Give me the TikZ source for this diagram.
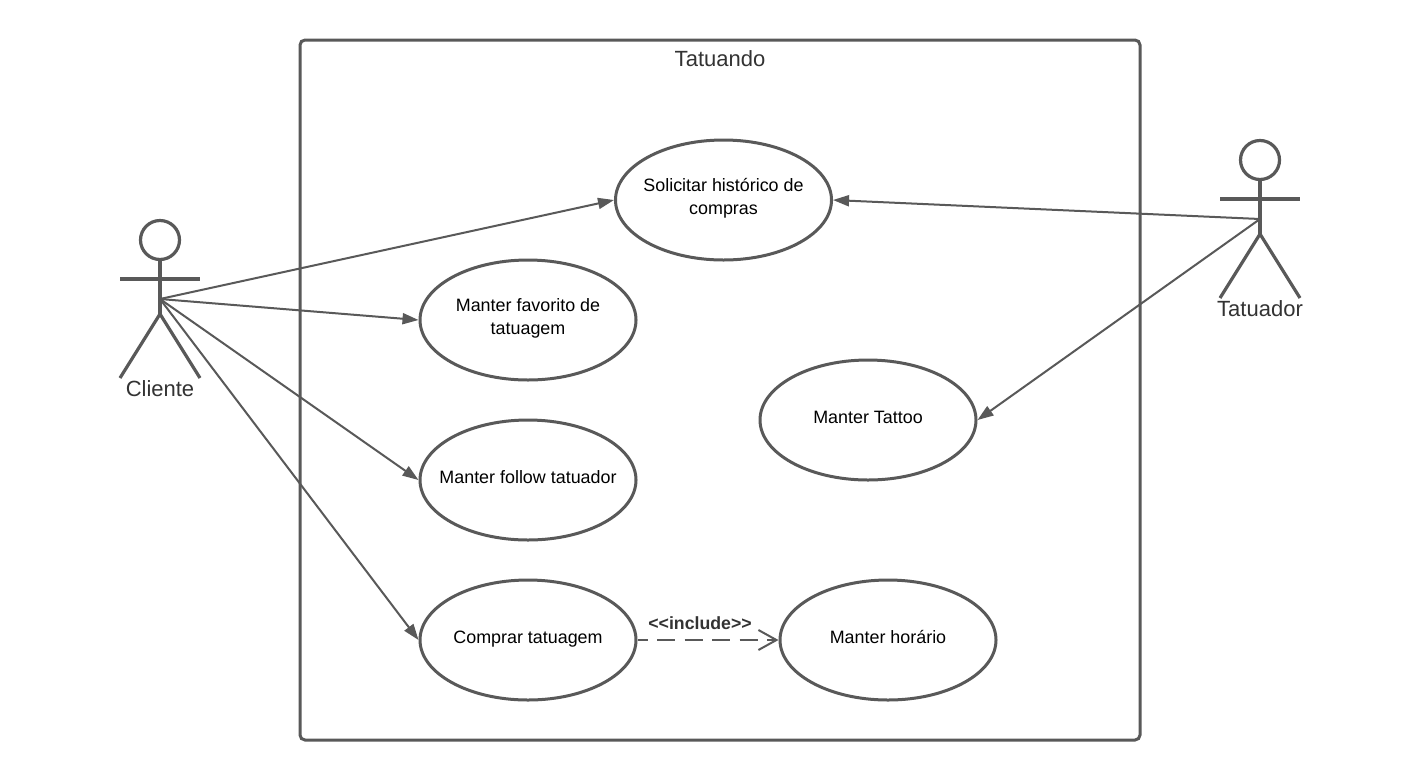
\documentclass[tikz,border=0pt]{standalone}
\usepackage{fontspec}
\setmainfont{Liberation Sans}
\usetikzlibrary{arrows.meta,shapes.geometric}
\definecolor{ln}{HTML}{595959}
\definecolor{tx}{HTML}{333333}
\tikzset{
  x=1pt,y=-1pt,
  usecase/.style={ellipse,draw=ln,line width=3pt,fill=white,minimum width=216pt,minimum height=120pt,inner xsep=-60pt,inner ysep=-10pt,align=center,font=\fontsize{17.9}{23}\selectfont,text=black,text height=14pt,text depth=8pt},
  twolines/.style={text height=37pt},
  assoc/.style={draw=ln,line width=2pt,-{Triangle[length=16pt,width=11pt,fill=ln]}},
  dep/.style={draw=ln,line width=2pt,dash pattern=on 18pt off 9.5pt,dash phase=8pt,-{Straight Barb[length=18pt,width=20pt,line width=2pt]}},
  actorline/.style={draw=ln,line width=3.2pt},
  lbl/.style={font=\fontsize{22}{26}\selectfont,text=tx,inner sep=0pt},
}
\begin{document}
\begin{tikzpicture}
\useasboundingbox (0,0) rectangle (1420,780);
\fill[white] (0,0) rectangle (1420,780);
\node[draw=ln,line width=3pt,rounded corners=5pt,minimum width=840pt,minimum height=700pt,inner sep=0pt] (sys) at (720,390) {};
\node[lbl,anchor=center] (title) at (720,59) {Tatuando};
\node[usecase,twolines] (sol) at (723.5,200) {Solicitar histórico de\\compras};
\node[usecase,twolines] (fav) at (528,320) {Manter favorito de\\tatuagem};
\node[usecase] (fol) at (528,480) {Manter follow tatuador};
\node[usecase] (com) at (528,640) {Comprar tatuagem};
\node[usecase] (hor) at (888,640) {Manter horário};
\node[usecase] (tat) at (868,420) {Manter Tattoo};
% Cliente
\node[circle,draw=ln,line width=3.2pt,minimum size=39pt,inner sep=0pt] (chead) at (160,240) {};
\coordinate (chip) at (160,314);
\coordinate (cmid) at (160,299);
\coordinate (cal) at (120,279);
\coordinate (car) at (200,279);
\coordinate (cll) at (120,378);
\coordinate (clr) at (200,378);
\draw[actorline] (chead.south) -- (chip);
\draw[actorline] (cal) -- (car);
\draw[actorline] (cll) -- (chip) -- (clr);
\node[lbl] (cliente) at (160,389) {Cliente};
% Tatuador
\node[circle,draw=ln,line width=3.2pt,minimum size=39pt,inner sep=0pt] (thead) at (1260,160) {};
\coordinate (thip) at (1260,234);
\coordinate (tmid) at (1260,219);
\coordinate (tal) at (1220,199);
\coordinate (tar) at (1300,199);
\coordinate (tll) at (1220,298);
\coordinate (tlr) at (1300,298);
\draw[actorline] (thead.south) -- (thip);
\draw[actorline] (tal) -- (tar);
\draw[actorline] (tll) -- (thip) -- (tlr);
\node[lbl] (tatuador) at (1260,309) {Tatuador};
% connectors
\draw[assoc] (cmid) -- (sol.west);
\draw[assoc] (cmid) -- (fav.west);
\draw[assoc] (cmid) -- (fol.west);
\draw[assoc] (cmid) -- (com.west);
\draw[assoc] (tmid) -- (sol.east);
\draw[assoc] (tmid) -- (tat.east);
\draw[dep] (com.east) -- (hor.west);
\node[font=\fontsize{17.7}{20}\selectfont\bfseries,text=tx,inner sep=0pt] (inc) at (700,623) {<{}<include>{}>};
\end{tikzpicture}
\end{document}
